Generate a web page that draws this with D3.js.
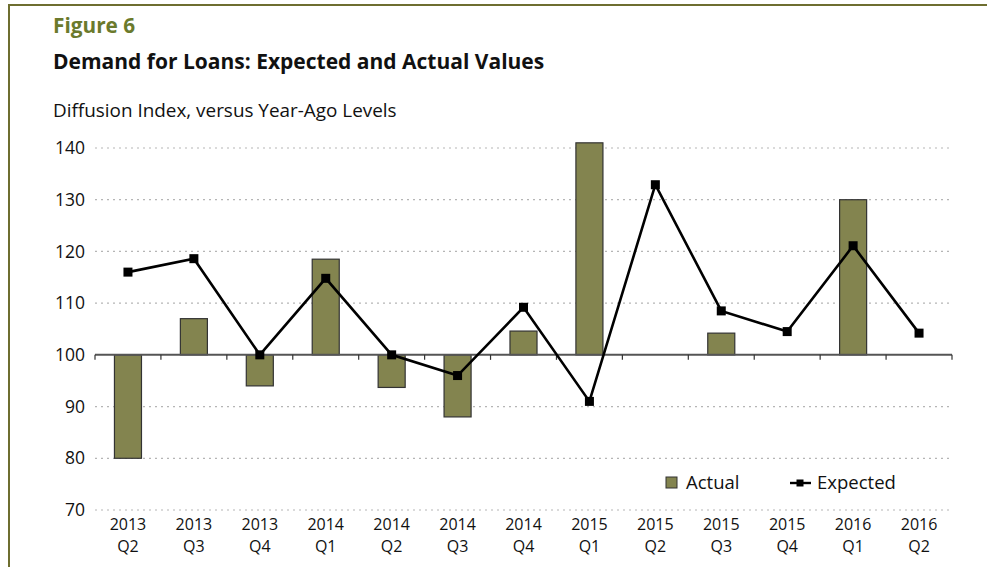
<!DOCTYPE html>
<html>
<head>
<meta charset="utf-8">
<script src="https://cdn.jsdelivr.net/npm/d3@7"></script>
<style>
  body { margin: 0; background: #fff; }
  svg { display: block; font-family: "Open Sans", "Noto Sans", sans-serif; }
</style>
</head>
<body>
<div id="chart"></div>
<script>
const categories = [
  ["2013", "Q2"], ["2013", "Q3"], ["2013", "Q4"], ["2014", "Q1"], ["2014", "Q2"],
  ["2014", "Q3"], ["2014", "Q4"], ["2015", "Q1"], ["2015", "Q2"], ["2015", "Q3"],
  ["2015", "Q4"], ["2016", "Q1"], ["2016", "Q2"]
];
// actual diffusion index (null = no value reported)
const actual = [80, 107, 94, 118.5, 93.7, 88, 104.6, 141, null, 104.2, null, 130, null];
const expected = [116, 118.6, 100, 114.8, 100, 96, 109.2, 91, 132.9, 108.5, 104.5, 121.1, 104.2];
const yTicks = [70, 80, 90, 100, 110, 120, 130, 140];

const W = 987, H = 567;
const margin = { top: 148, right: 35, bottom: 57, left: 95 };
const olive = "#83844f";

const svg = d3.select("#chart").append("svg")
  .attr("width", W)
  .attr("height", H);

// frame
svg.append("line").attr("x1", 9).attr("x2", W).attr("y1", 5).attr("y2", 5)
  .attr("stroke", "#6e6e30").attr("stroke-width", 2);
svg.append("line").attr("x1", 9).attr("x2", 9).attr("y1", 4).attr("y2", H)
  .attr("stroke", "#6e6e30").attr("stroke-width", 2);

// titles
svg.append("text").attr("x", 53).attr("y", 33)
  .style("font-size", "20.8px").style("font-weight", "bold").attr("fill", "#6b7a2c")
  .text("Figure 6");
svg.append("text").attr("x", 53).attr("y", 69)
  .style("font-size", "21px").style("font-weight", "bold").attr("fill", "#111")
  .text("Demand for Loans: Expected and Actual Values");
svg.append("text").attr("x", 53).attr("y", 117)
  .style("font-size", "18.9px").attr("fill", "#111")
  .text("Diffusion Index, versus Year-Ago Levels");

const x = d3.scaleBand()
  .domain(d3.range(categories.length))
  .range([margin.left, W - margin.right])
  .paddingInner(0.59).paddingOuter(0.295);

const band = d3.scaleBand()
  .domain(d3.range(categories.length))
  .range([margin.left, W - margin.right]);

const y = d3.scaleLinear().domain([70, 140]).range([H - margin.bottom, margin.top]);

// gridlines
svg.append("g").selectAll("line")
  .data(yTicks.filter(t => t !== 100))
  .join("line")
  .attr("x1", margin.left).attr("x2", W - margin.right)
  .attr("y1", d => y(d)).attr("y2", d => y(d))
  .attr("stroke", "#b5b5b5").attr("stroke-width", 1.2)
  .attr("stroke-dasharray", "2,4");

// y labels
svg.append("g").selectAll("text")
  .data(yTicks)
  .join("text")
  .attr("x", margin.left - 10)
  .attr("y", d => y(d))
  .attr("dy", "0.35em")
  .attr("text-anchor", "end")
  .style("font-size", "17.5px").attr("fill", "#111")
  .text(d => d);

// bars
svg.append("g").selectAll("rect")
  .data(actual.map((v, i) => ({ v, i })).filter(d => d.v !== null))
  .join("rect")
  .attr("x", d => x(d.i))
  .attr("width", x.bandwidth())
  .attr("y", d => y(Math.max(d.v, 100)))
  .attr("height", d => Math.abs(y(d.v) - y(100)))
  .attr("fill", olive)
  .attr("stroke", "#333")
  .attr("stroke-width", 1.2);

// baseline at 100 with ticks
const axis = svg.append("g").attr("transform", `translate(0,${y(100)})`);
axis.append("line")
  .attr("x1", margin.left).attr("x2", W - margin.right)
  .attr("stroke", "#555").attr("stroke-width", 2);
axis.selectAll("line.tick")
  .data(d3.range(categories.length + 1))
  .join("line")
  .attr("class", "tick")
  .attr("x1", d => margin.left + d * band.bandwidth())
  .attr("x2", d => margin.left + d * band.bandwidth())
  .attr("y1", 0).attr("y2", 5)
  .attr("stroke", "#333").attr("stroke-width", 1.2);

// expected line
const cx = i => band(i) + band.bandwidth() / 2;
svg.append("path")
  .datum(expected)
  .attr("fill", "none")
  .attr("stroke", "#000")
  .attr("stroke-width", 2.6)
  .attr("stroke-linejoin", "miter")
  .attr("d", d3.line().x((d, i) => cx(i)).y(d => y(d)));

svg.append("g").selectAll("rect")
  .data(expected)
  .join("rect")
  .attr("x", (d, i) => cx(i) - 4.5)
  .attr("y", d => y(d) - 4.5)
  .attr("width", 9).attr("height", 9)
  .attr("fill", "#000");

// x labels
const xl = svg.append("g").selectAll("text")
  .data(categories)
  .join("text")
  .attr("x", (d, i) => cx(i))
  .attr("text-anchor", "middle")
  .style("font-size", "16px").attr("fill", "#111");
xl.append("tspan").attr("x", (d, i) => cx(i)).attr("y", 530).text(d => d[0]);
xl.append("tspan").attr("x", (d, i) => cx(i)).attr("y", 552).text(d => d[1]);

// legend
const lg = svg.append("g");
lg.append("rect").attr("x", 666).attr("y", 477).attr("width", 11).attr("height", 11)
  .attr("fill", olive).attr("stroke", "#333").attr("stroke-width", 1);
lg.append("text").attr("x", 686).attr("y", 489)
  .style("font-size", "18.5px").attr("fill", "#111").text("Actual");
lg.append("line").attr("x1", 790).attr("x2", 811).attr("y1", 483).attr("y2", 483)
  .attr("stroke", "#000").attr("stroke-width", 2.4);
lg.append("rect").attr("x", 796.5).attr("y", 479.5).attr("width", 7).attr("height", 7)
  .attr("fill", "#000");
lg.append("text").attr("x", 817).attr("y", 489)
  .style("font-size", "18.5px").attr("fill", "#111").text("Expected");
</script>
</body>
</html>
